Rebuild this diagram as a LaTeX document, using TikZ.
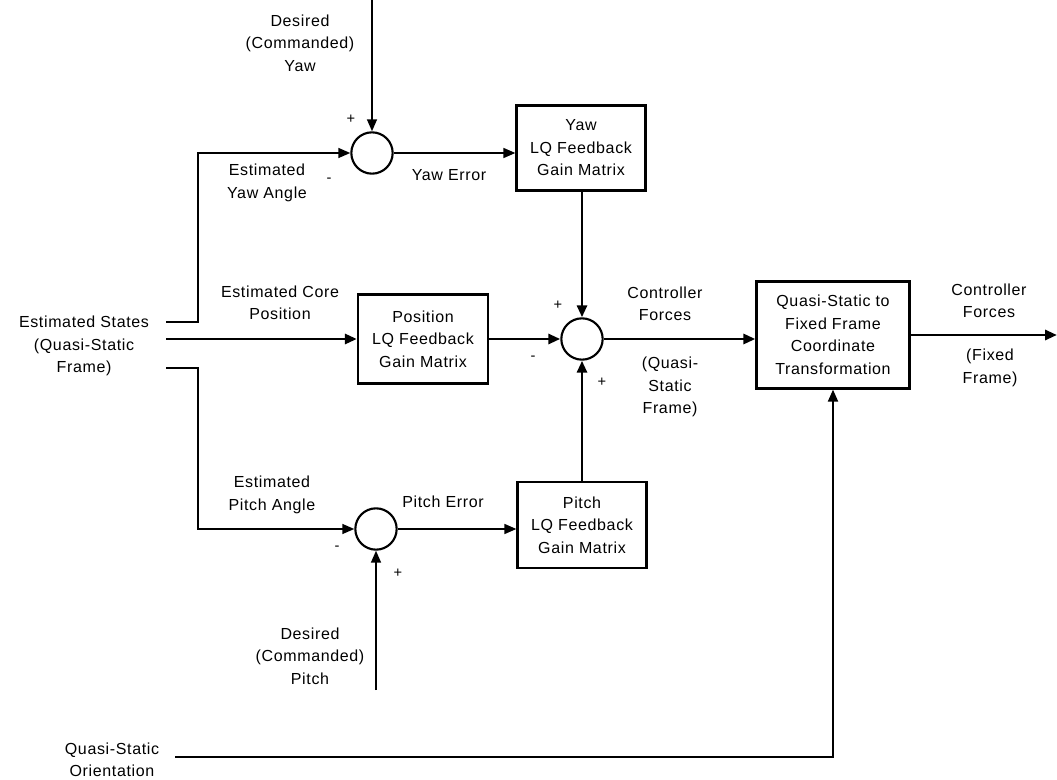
\documentclass[tikz,border=0pt]{standalone}
\usepackage{fontspec}
\setmainfont{Liberation Sans}[LetterSpace=4]
\usetikzlibrary{arrows.meta}

\tikzset{
  block/.style={draw, line width=1.7pt, align=center, inner sep=0pt},
  summer/.style={draw, circle, line width=1.6pt, minimum size=31pt, inner sep=0pt},
  lbl/.style={align=center, inner sep=0pt},
  sgn/.style={inner sep=0pt, font=\fontsize{11}{11}\selectfont},
  thinsig/.style={line width=1.2pt},
  thicksig/.style={line width=2.2pt}
}

\begin{document}
\begin{tikzpicture}[x=0.75pt,y=-0.75pt,>={Triangle[length=9pt,width=7.5pt]},
  font=\fontsize{12}{16.9}\selectfont]
  \useasboundingbox (0,0) rectangle (1057,780);

  % summing junctions
  \node[summer] (sumyaw)   at (372,153) {};
  \node[summer] (sum)      at (582,339) {};
  \node[summer] (sumpitch) at (376,529) {};

  % gain blocks
  \node[block, minimum width=96.75pt, minimum height=63.75pt] (yawgain)   at (581,148) {Yaw\\LQ Feedback\\Gain Matrix};
  \node[block, minimum width=97.5pt,  minimum height=66.75pt] (posgain)   at (423,339) {Position\\LQ Feedback\\Gain Matrix};
  \node[block, minimum width=96.75pt, minimum height=64.5pt]  (pitchgain) at (582,525) {Pitch\\LQ Feedback\\Gain Matrix};
  \node[block, minimum width=114.75pt, minimum height=80.25pt] (transform) at (833,335) {Quasi-Static to\\Fixed Frame\\Coordinate\\Transformation};

  % free ends
  \coordinate (yawin)    at (372,0);
  \coordinate (pitchin)  at (376,690);
  \coordinate (statesin) at (166,339);
  \coordinate (statesup) at (166,322);
  \coordinate (statesdn) at (166,368);
  \coordinate (orientin) at (175,757);
  \coordinate (out)      at (1057,335);

  % connectors
  \draw[thinsig,->] (yawin) -- (sumyaw.north);
  \draw[thinsig,->] (pitchin) -- (sumpitch.south);
  \draw[thinsig,->] (statesup) -- ++(32,0) |- (sumyaw.west);
  \draw[thinsig,->] (statesdn) -- ++(32,0) |- (sumpitch.west);
  \draw[thinsig,->] (sumyaw) -- (sumyaw -| yawgain.west);
  \draw[thinsig,->] (sumpitch) -- (sumpitch -| pitchgain.west);
  \draw[thicksig,->] (statesin) -- (statesin -| posgain.west);
  \draw[thicksig,->] (posgain) -- (sum);
  \draw[thicksig,->] (yawgain.south -| sum) -- (sum.north);
  \draw[thicksig,->] (pitchgain.north -| sum) -- (sum.south);
  \draw[thicksig,->] (sum) -- (sum -| transform.west);
  \draw[thicksig,->] (transform.east |- out) -- (out);
  \draw[line width=1.5pt,->] (orientin) -| (transform.south);

  % labels
  \node[lbl] (lyawdes)   at (300,43)  {Desired\\(Commanded)\\Yaw};
  \node[lbl] (lyawest)   at (267,183) {Estimated\\Yaw Angle};
  \node[lbl] (lyawerr)   at (449,175) {Yaw Error};
  \node[lbl] (lcore)     at (280,303) {Estimated Core\\Position};
  \node[lbl] (lstates)   at (84,346)  {Estimated States\\(Quasi-Static\\Frame)};
  \node[lbl] (lforcesqs) at (665,304) {Controller\\Forces};
  \node[lbl] (lframeqs)  at (670,387) {(Quasi-\\Static\\Frame)};
  \node[lbl] (lforcesff) at (989,301) {Controller\\Forces};
  \node[lbl] (lframeff)  at (990,368) {(Fixed\\Frame)};
  \node[lbl] (lpitchest) at (272,495) {Estimated\\Pitch Angle};
  \node[lbl] (lpitcherr) at (443,502) {Pitch Error};
  \node[lbl] (lpitchdes) at (310,656) {Desired\\(Commanded)\\Pitch};
  \node[lbl] (lorient)   at (112,760) {Quasi-Static\\Orientation};

  % signs
  \node[sgn] (syawp)   at (351,119) {+};
  \node[sgn] (syawm)   at (329,180) {-};
  \node[sgn] (ssumpu)  at (558,305) {+};
  \node[sgn] (ssumm)   at (533,358) {-};
  \node[sgn] (ssumpd)  at (602,382) {+};
  \node[sgn] (spitchm) at (337,548) {-};
  \node[sgn] (spitchp) at (398,573) {+};
\end{tikzpicture}
\end{document}
